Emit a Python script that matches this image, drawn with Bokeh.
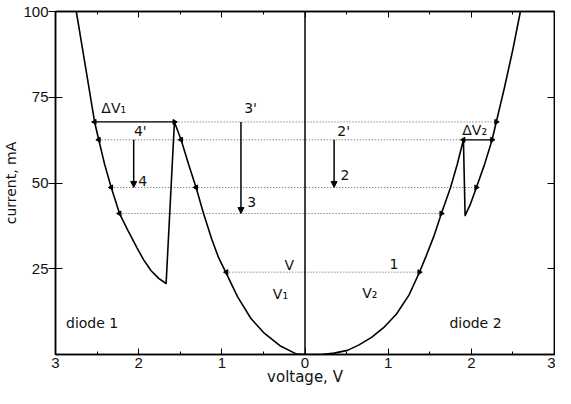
import numpy as np
from bokeh.plotting import figure
from bokeh.models import (ColumnDataSource, FixedTicker, LinearAxis, Range1d,
                          Arrow, NormalHead, Span)
from bokeh.embed import file_html
from bokeh.resources import INLINE
from bokeh.core.properties import value

# ---------------- data ----------------
# diode 1 (voltage magnitudes, drawn to the left of 0)
d1_inner_v = [0.0, 0.10, 0.29, 0.49, 0.65, 0.81, 0.945, 1.04, 1.12, 1.22, 1.31, 1.40, 1.49, 1.57]
d1_inner_i = [0.0, 0.1, 2.4, 6.2, 10.5, 16.8, 23.6, 28.3, 33.5, 41.1, 48.7, 55.5, 62.6, 67.8]
d1_outer_v = [1.67, 1.76, 1.85, 1.94, 2.02, 2.13, 2.23, 2.33, 2.41, 2.48, 2.53, 2.64, 2.75]
d1_outer_i = [20.7, 22.2, 24.4, 27.6, 31.1, 36.2, 41.1, 48.7, 55.5, 62.6, 67.8, 84.0, 100.0]

# diode 2 (drawn to the right of 0)
d2_inner_v = [0.0, 0.20, 0.35, 0.51, 0.65, 0.80, 0.945, 1.10, 1.25, 1.375, 1.455, 1.55, 1.64, 1.75, 1.83, 1.905]
d2_inner_i = [0.0, 0.0, 0.4, 1.2, 2.8, 5.0, 7.8, 11.8, 17.3, 23.9, 28.6, 34.5, 41.1, 48.7, 55.4, 62.6]
d2_outer_v = [1.925, 1.985, 2.06, 2.16, 2.25, 2.30, 2.40, 2.50, 2.59]
d2_outer_i = [40.5, 43.6, 48.6, 55.5, 62.6, 67.8, 78.0, 89.0, 100.0]

# operating levels (dotted lines)
level_i = [67.8, 62.6, 48.7, 41.1, 24.0]
level_v_left = [-2.53, -2.48, -2.33, -2.23, -0.945]
level_v_right = [2.30, 2.25, 2.06, 1.64, 1.375]

# delta-V segments
dv_v0 = [-2.53, 1.905]
dv_v1 = [-1.57, 2.25]
dv_i = [67.8, 62.6]

# small arrow marks on the curves
mark_left_v = [-2.48, -2.33, -2.23, -1.49, -1.31, -0.945, -2.53, 1.905]
mark_left_i = [62.6, 48.7, 41.1, 62.6, 48.7, 24.0, 67.8, 62.6]
mark_right_v = [-1.57, 2.30, 2.25, 2.06, 1.64, 1.375]
mark_right_i = [67.8, 67.8, 62.6, 48.7, 41.1, 24.0]

# vertical transition arrows
tr_v = [-2.06, -0.77, 0.35]
tr_i0 = [62.6, 67.8, 62.6]
tr_i1 = [48.7, 41.1, 48.7]

# text labels
lab_text = ["ΔV₁", "4'", "4", "3'", "3", "2'", "2", "ΔV₂", "V", "V₁", "V₂", "1", "diode 1", "diode 2"]
lab_v = [-2.30, -1.98, -1.95, -0.655, -0.64, 0.465, 0.48, 2.04, -0.19, -0.295, 0.78, 1.07, -2.56, 2.05]
lab_i = [71.9, 65.1, 50.7, 71.8, 44.5, 65.1, 52.4, 65.4, 26.2, 17.6, 17.9, 26.5, 9.1, 9.1]

x_ticks = [-3, -2, -1, 0, 1, 2, 3]
x_tick_labels = ["3", "2", "1", "0", "1", "2", "3"]
y_ticks = [25, 50, 75, 100]

FONT = "DejaVu Sans"
NUMFONT = "Liberation Sans"
INK = "#111111"

# ---------------- figure ----------------
p = figure(width=555, height=388, x_range=Range1d(-3, 3), y_range=Range1d(0, 100),
           output_backend="svg", toolbar_location=None,
           min_border_left=54, min_border_right=1, min_border_top=11, min_border_bottom=34)
p.xgrid.visible = False
p.ygrid.visible = False
p.outline_line_color = "black"
p.outline_line_width = 1.5
p.background_fill_color = "white"
p.border_fill_color = "white"

minor = [v / 2 for v in range(-6, 7)]

xa = p.xaxis[0]
xa.ticker = FixedTicker(ticks=x_ticks, minor_ticks=minor)
xa.major_label_overrides = {t: l for t, l in zip(x_ticks, x_tick_labels)}
xa.major_tick_in = 6
xa.major_tick_out = 0
xa.minor_tick_in = 3
xa.minor_tick_out = 0
xa.major_label_standoff = 3
xa.axis_label = "voltage, V"
xa.axis_label_standoff = -3
xa.axis_label_text_font = FONT
xa.axis_label_text_font_size = "15px"
xa.axis_label_text_font_style = "normal"
xa.axis_label_text_color = INK
xa.major_label_text_font = NUMFONT
xa.major_label_text_font_size = "15px"
xa.major_label_text_color = INK
xa.axis_line_color = "black"
xa.axis_line_width = 1.5
xa.major_tick_line_color = "black"
xa.minor_tick_line_color = "black"

ya = p.yaxis[0]
ya.ticker = FixedTicker(ticks=y_ticks)
ya.major_tick_in = 7
ya.major_tick_out = 7
ya.minor_tick_in = 0
ya.minor_tick_out = 0
ya.major_label_standoff = 0
ya.axis_label = "current, mA"
ya.axis_label_standoff = 1
ya.axis_label_text_font = FONT
ya.axis_label_text_font_size = "14px"
ya.axis_label_text_font_style = "normal"
ya.axis_label_text_color = INK
ya.major_label_text_font = NUMFONT
ya.major_label_text_font_size = "15px"
ya.major_label_text_color = INK
ya.axis_line_color = "black"
ya.axis_line_width = 1.5
ya.major_tick_line_color = "black"

top = LinearAxis(ticker=FixedTicker(ticks=x_ticks, minor_ticks=minor),
                 major_tick_in=6, major_tick_out=0, minor_tick_in=3, minor_tick_out=0,
                 major_label_overrides={t: "" for t in x_ticks},
                 major_label_text_font_size="1px", major_label_standoff=0,
                 axis_line_color="black", axis_line_width=1.5,
                 major_tick_line_color="black", minor_tick_line_color="black")
p.add_layout(top, "above")
right = LinearAxis(ticker=FixedTicker(ticks=[25, 50, 75]),
                   major_tick_in=7, major_tick_out=0, minor_tick_in=0, minor_tick_out=0,
                   major_label_overrides={t: "" for t in [25, 50, 75]},
                   major_label_text_font_size="1px", major_label_standoff=0,
                   axis_line_color="black", axis_line_width=1.5,
                   major_tick_line_color="black")
p.add_layout(right, "right")

# zero line
p.add_layout(Span(location=0, dimension="height", line_color="black", line_width=1.5))

# dotted level lines
p.segment(x0=level_v_left, y0=level_i, x1=level_v_right, y1=level_i,
          line_color="#555555", line_width=1, line_dash="1 2")
# delta-V solid segments
p.segment(x0=dv_v0, y0=dv_i, x1=dv_v1, y1=dv_i, line_color="black", line_width=1.3)

# curves
d1_x = [-v for v in d1_inner_v] + [-v for v in d1_outer_v]
d1_y = d1_inner_i + d1_outer_i
d2_x = d2_inner_v + d2_outer_v
d2_y = d2_inner_i + d2_outer_i
p.line(d1_x, d1_y, line_color="black", line_width=1.6, line_join="round")
p.line(d2_x, d2_y, line_color="black", line_width=1.6, line_join="round")

# arrow marks
p.scatter(mark_left_v, mark_left_i, marker="triangle", size=5, angle=np.pi / 2,
          fill_color="black", line_color="black")
p.scatter(mark_right_v, mark_right_i, marker="triangle", size=5, angle=-np.pi / 2,
          fill_color="black", line_color="black")

# transition arrows
for xv, a, b in zip(tr_v, tr_i0, tr_i1):
    p.add_layout(Arrow(end=NormalHead(size=6, fill_color="black", line_color="black"),
                       x_start=xv, y_start=a, x_end=xv, y_end=b,
                       line_color="black", line_width=1.5))

# labels
src = ColumnDataSource(dict(x=lab_v, y=lab_i, t=lab_text))
p.text(x="x", y="y", text="t", source=src, text_font=value(FONT), text_font_size="14px",
       text_align="center", text_baseline="middle", text_color=INK)

open("out.html", "w").write(file_html(p, INLINE))
